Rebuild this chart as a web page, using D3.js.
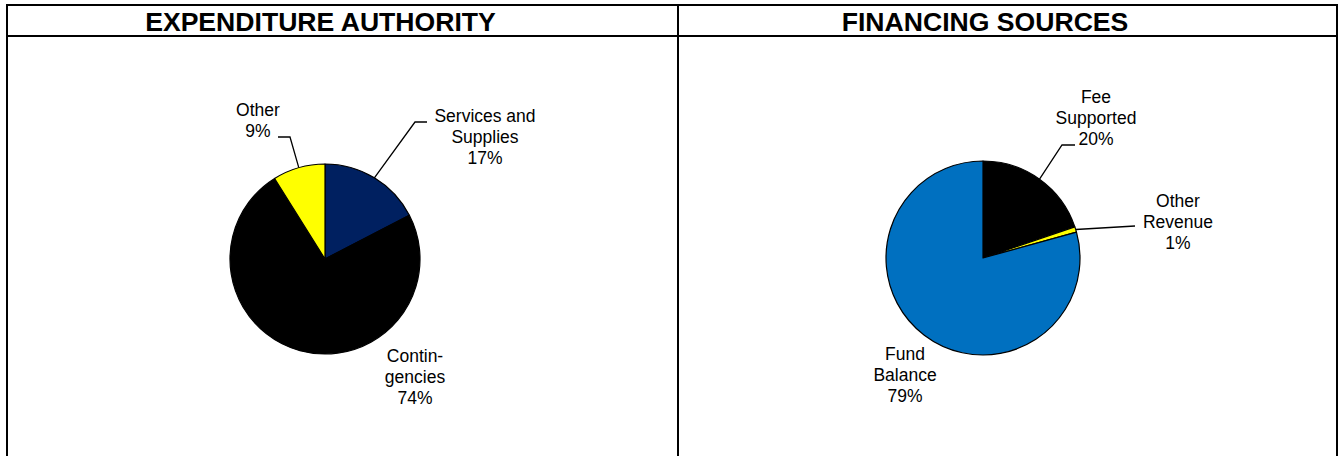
<!DOCTYPE html>
<html>
<head>
<meta charset="utf-8">
<script src="https://cdn.jsdelivr.net/npm/d3@7"></script>
<style>
  html, body { margin: 0; padding: 0; background: #fff; }
  svg { display: block; }
  text { font-family: "Liberation Sans", Arial, sans-serif; fill: #000; }
</style>
</head>
<body>
<svg id="chart" width="1340" height="456"></svg>
<script>
// ---- Data ----
const expTitle = "EXPENDITURE AUTHORITY";
const expCategories = ["Services and Supplies", "Contingencies", "Other"];
const expValues = [17.4, 73.7, 8.9];
const expLabelLines = [["Services and", "Supplies"], ["Contin-", "gencies"], ["Other"]];

const finTitle = "FINANCING SOURCES";
const finCategories = ["Fee Supported", "Other Revenue", "Fund Balance"];
const finValues = [19.8, 0.9, 79.3];
const finLabelLines = [["Fee", "Supported"], ["Other", "Revenue"], ["Fund", "Balance"]];

// ---- Styling / layout ----
const expColors = ["#002060", "#000000", "#FFFF00"];
const finColors = ["#000000", "#FFFF00", "#0070C0"];

// label placement relative to pie centre: text centre x, first baseline y, leader path points
const expLayout = [
  { tx: 160, ty: -137, leader: [[90, -137], [102, -137]] },
  { tx: 90, ty: 103, leader: null },
  { tx: -67, ty: -143, leader: [[-35, -122], [-47, -122]] }
];
const finLayout = [
  { tx: 113, ty: -155, leader: [[79, -113], [92, -113]] },
  { tx: 195, ty: -51, leader: [[152, -32]] },
  { tx: -78, ty: 102, leader: null }
];

const svg = d3.select("#chart");
const W = 1340, H = 456;
const frameLeft = 7, frameMid = 678, frameRight = 1337, frameTop = 5, headBottom = 36;

// frame
const frame = svg.append("g").attr("stroke", "#000").attr("stroke-width", 2);
frame.append("line").attr("x1", frameLeft - 1).attr("x2", frameRight + 1).attr("y1", frameTop).attr("y2", frameTop);
frame.append("line").attr("x1", frameLeft - 1).attr("x2", frameRight + 1).attr("y1", headBottom).attr("y2", headBottom);
[frameLeft, frameMid, frameRight].forEach(x => frame.append("line").attr("x1", x).attr("x2", x).attr("y1", frameTop - 1).attr("y2", H + 2));

function drawPie(cfg) {
  const g = svg.append("g").attr("transform", `translate(${cfg.cx},${cfg.cy})`);
  const total = d3.sum(cfg.values);
  const pie = d3.pie().sort(null).value(d => d)(cfg.values);
  const arc = d3.arc().innerRadius(0).outerRadius(cfg.r);
  const edge = d3.arc().innerRadius(cfg.r).outerRadius(cfg.r);

  g.selectAll("path.slice").data(pie).join("path")
    .attr("class", "slice")
    .attr("d", arc)
    .attr("fill", (d, i) => cfg.colors[i])
    .attr("stroke", "#000")
    .attr("stroke-width", 1.2)
    .attr("stroke-linejoin", "round");

  pie.forEach((d, i) => {
    const L = cfg.layout[i];
    if (L.leader) {
      const pts = [edge.centroid(d)].concat(L.leader);
      g.append("path")
        .attr("d", d3.line()(pts))
        .attr("fill", "none")
        .attr("stroke", "#000")
        .attr("stroke-width", 1.3);
    }
    const lines = cfg.labelLines[i].concat([Math.round(cfg.values[i] / total * 100) + "%"]);
    const t = g.append("text")
      .attr("text-anchor", "middle")
      .attr("font-size", 17.5)
      .attr("x", L.tx)
      .attr("y", L.ty);
    lines.forEach((s, k) => t.append("tspan").attr("x", L.tx).attr("y", L.ty + k * 21).text(s));
  });

  svg.append("text")
    .attr("x", cfg.cx + cfg.titleDx)
    .attr("y", 31)
    .attr("text-anchor", "middle")
    .attr("font-size", 26.6)
    .attr("font-weight", "bold")
    .text(cfg.title);
}

drawPie({ cx: 325, cy: 259, r: 95, values: expValues, colors: expColors, labelLines: expLabelLines, layout: expLayout, title: expTitle, titleDx: -4.5 });
drawPie({ cx: 983, cy: 258, r: 97, values: finValues, colors: finColors, labelLines: finLabelLines, layout: finLayout, title: finTitle, titleDx: 2 });
</script>
</body>
</html>
